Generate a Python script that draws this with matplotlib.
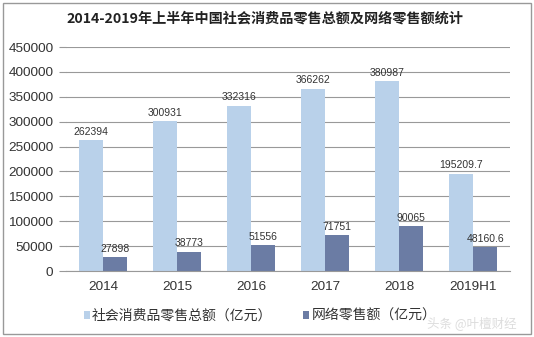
import matplotlib.pyplot as plt
from matplotlib.patches import Rectangle
import numpy as np

plt.rcParams['font.family'] = ['Noto Sans CJK SC', 'DejaVu Sans']

years = ['2014', '2015', '2016', '2017', '2018', '2019H1']
total_retail = [262394, 300931, 332316, 366262, 380987, 195209.7]
online_retail = [27898, 38773, 51556, 71751, 90065, 48160.6]
total_labels = ['262394', '300931', '332316', '366262', '380987', '195209.7']
online_labels = ['27898', '38773', '51556', '71751', '90065', '48160.6']

fig = plt.figure(figsize=(5.34, 3.37), dpi=100)
ax = fig.add_axes([66 / 534, 66 / 337, 444 / 534, 224 / 337])

x = np.arange(len(years))
w = 0.33
ax.bar(x - w / 2, total_retail, w, color='#b9d1ea', label='社会消费品零售总额（亿元）')
ax.bar(x + w / 2, online_retail, w, color='#6b7ca4', label='网络零售额（亿元）')

# data labels
for xi, v, s in zip(x, total_retail, total_labels):
    ax.text(xi - w / 2, v + 7000, s, ha='center', va='bottom', fontsize=7.5,
            family='Liberation Sans', color='#333333')
for xi, v, s in zip(x, online_retail, online_labels):
    ax.text(xi + w / 2, v + 7000, s, ha='center', va='bottom', fontsize=7.5,
            family='Liberation Sans', color='#333333')

ax.set_xlim(-0.5, len(years) - 0.5)
ax.set_ylim(0, 450000)
ax.set_yticks(np.arange(0, 450001, 50000))
ax.set_yticklabels([str(v) for v in range(0, 450001, 50000)], family='Liberation Sans',
                   fontsize=9.7, color='#333333')
ax.set_xticks(x)
ax.set_xticklabels(years, family='Liberation Sans', fontsize=9.7, color='#333333')
ax.yaxis.grid(True, color='#999999', linewidth=0.8)
ax.set_axisbelow(True)
for sp in ['top', 'right', 'left']:
    ax.spines[sp].set_visible(False)
ax.spines['bottom'].set_color('#999999')
ax.tick_params(axis='y', length=5, color='#999999', pad=4)
ax.tick_params(axis='x', length=0, pad=7)

fig.text(265 / 534, 1 - 19 / 337, '2014-2019年上半年中国社会消费品零售总额及网络零售额统计',
         ha='center', va='center', fontsize=10.2, fontweight='bold', color='#222222')

ax.legend(loc='center', bbox_to_anchor=(0.437, -0.2), ncol=2, frameon=False,
          fontsize=10, handlelength=0.45, handleheight=0.45, handletextpad=0.15,
          columnspacing=2.2, labelcolor='#333333')

fig.text(0.967, 0.04, '头条 @叶檀财经', ha='right', va='center', fontsize=9,
         color='#dddddd')

fig.patches.append(Rectangle((3 / 534, 3 / 337), 528 / 534, 331 / 337, transform=fig.transFigure,
                             fill=False, edgecolor='#999999', linewidth=1))

fig.savefig('out.png', dpi=100)
